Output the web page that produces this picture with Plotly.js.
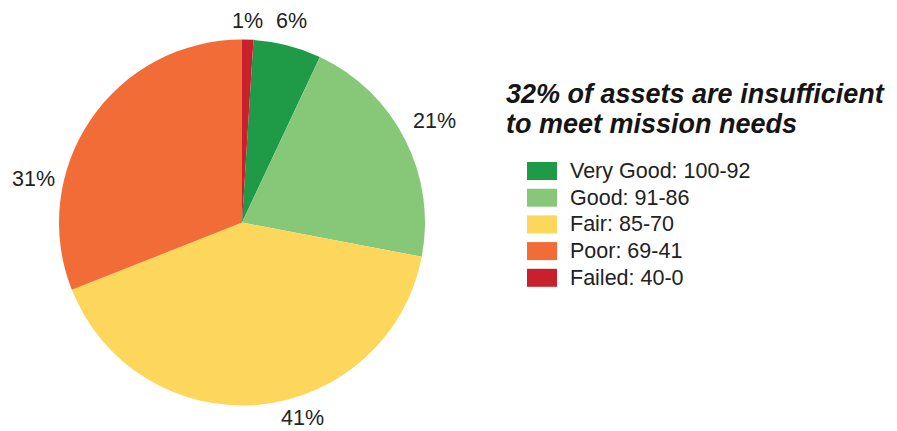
<!DOCTYPE html>
<html>
<head>
<meta charset="utf-8">
<script src="https://cdn.plot.ly/plotly-3.0.1.min.js"></script>
<style>html,body{margin:0;padding:0;background:#fff;}#chart{width:897px;height:431px;}</style>
</head>
<body>
<div id="chart"></div>
<script>
// Data
const categories = ["Very Good: 100-92", "Good: 91-86", "Fair: 85-70", "Poor: 69-41", "Failed: 40-0"];
const shares = [6, 21, 41, 31, 1];
const colors = ["#1f9a46", "#86c878", "#fdd75c", "#f26c37", "#c8202c"];
const titleLines = ["32% of assets are insufficient", "to meet mission needs"];

const W = 897, H = 431;
const FONT = "Liberation Sans, Arial, Helvetica, sans-serif";

// Placement (pixels) of the outside percentage labels, one per category (style only)
const labelPos = [[291, 21], [434, 121], [302, 418], [33, 179], [247, 21]];

const trace = {
  type: "pie",
  labels: categories,
  values: shares,
  marker: { colors: colors, line: { width: 0 } },
  sort: false,
  direction: "clockwise",
  rotation: 3.6,
  textinfo: "none",
  showlegend: false,
  hoverinfo: "label+percent",
  domain: { x: [59 / W, 425 / W], y: [(H - 405.5) / H, (H - 39.5) / H] }
};

const shapes = [];
const annotations = [];
const total = shares.reduce((a, b) => a + b, 0);

// Percentage labels, text derived from the data
shares.forEach((v, i) => {
  annotations.push({
    xref: "paper", yref: "paper",
    x: labelPos[i][0] / W, y: 1 - labelPos[i][1] / H,
    xanchor: "center", yanchor: "middle", showarrow: false, borderpad: 0,
    text: Math.round(v / total * 100) + "%",
    font: { family: FONT, size: 21.5, color: "#222" }
  });
});

// Legend drawn as shapes + annotations from the category/colour arrays
const rowTop = 171, rowGap = 26.7, swH = 18;
categories.forEach((c, i) => {
  const cy = rowTop + i * rowGap;
  shapes.push({
    type: "rect", xref: "paper", yref: "paper",
    x0: 527 / W, x1: 557 / W,
    y0: 1 - (cy + swH / 2) / H, y1: 1 - (cy - swH / 2) / H,
    fillcolor: colors[i], line: { width: 0 }
  });
  annotations.push({
    xref: "paper", yref: "paper", x: 568 / W, y: 1 - cy / H,
    xanchor: "left", yanchor: "middle", showarrow: false,
    text: c, font: { family: FONT, size: 21.5, color: "#222" }
  });
});

// Title, two lines
const titleTops = [77, 107];
titleLines.forEach((t, i) => {
  annotations.push({
    xref: "paper", yref: "paper", x: 504 / W, y: 1 - titleTops[i] / H,
    xanchor: "left", yanchor: "top", align: "left", showarrow: false,
    text: "<b><i>" + t + "</i></b>",
    font: { family: FONT, size: 27, color: "#151515" }
  });
});

const layout = {
  width: W, height: H,
  margin: { l: 0, r: 0, t: 0, b: 0 },
  paper_bgcolor: "#fff",
  showlegend: false,
  shapes: shapes,
  annotations: annotations
};

Plotly.newPlot("chart", [trace], layout, { displayModeBar: false, staticPlot: true });
</script>
</body>
</html>
